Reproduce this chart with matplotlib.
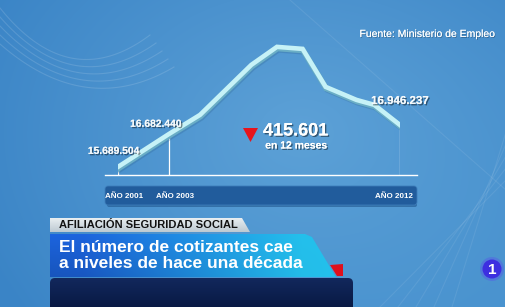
import numpy as np
import matplotlib
matplotlib.use("Agg")
import matplotlib.pyplot as plt
import matplotlib.transforms as mtransforms
from matplotlib.patches import Polygon, FancyBboxPatch, Circle
import matplotlib.patheffects as pe

# ---- data ----
years = [2001, 2003, 2004.2, 2006.2, 2007.2, 2008.2, 2009.1, 2010.3, 2011.0, 2012]
afiliados = [15.689504, 16.682440, 17.25, 18.75, 19.29, 19.23, 18.09, 17.70, 17.55, 16.946237]
label_years = [2001, 2003, 2012]
label_values = ["15.689.504", "16.682.440", "16.946.237"]
tick_years = [2001, 2003, 2012]
tick_labels = ["AÑO 2001", "AÑO 2003", "AÑO 2012"]
caida = "415.601"
caida_sub = "en 12 meses"
fuente = "Fuente: Ministerio de Empleo"
antetitulo = "AFILIACIÓN SEGURIDAD SOCIAL"
titulo = ["El número de cotizantes cae", "a niveles de hace una década"]

plt.rcParams['font.family'] = ['Liberation Sans', 'DejaVu Sans']

W, H = 506, 307
fig = plt.figure(figsize=(W / 100, H / 100), dpi=100)

# ---- background ----
bg = fig.add_axes([0, 0, 1, 1])
bg.set_xlim(0, W)
bg.set_ylim(H, 0)
bg.axis('off')
yy, xx = np.mgrid[0:H, 0:W]
d = np.sqrt(((xx - 300) / 360.0) ** 2 + ((yy - 130) / 280.0) ** 2)
d = np.clip(d, 0, 1)
c_in = np.array([92, 160, 214]) / 255
c_out = np.array([58, 132, 198]) / 255
img = c_in[None, None, :] * (1 - d[..., None]) + c_out[None, None, :] * d[..., None]
lr = np.clip((xx / W) * (yy / H), 0, 1)[..., None]
img = img * (1 - 0.25 * lr) + np.array([105, 180, 228]) / 255 * 0.25 * lr
bg.imshow(img, extent=(0, W, H, 0), aspect='auto', zorder=0)

# faint decorative swooshes (top-left)
for k in range(5):
    p0 = np.array([0, 8 + k * 9])
    p1 = np.array([70 + k * 4, 95 + k * 6])
    p2 = np.array([150 + k * 6, 35 + k * 8])
    tt = np.linspace(0, 1, 80)[:, None]
    pts = (1 - tt) ** 2 * p0 + 2 * (1 - tt) * tt * p1 + tt ** 2 * p2
    bg.plot(pts[:, 0], pts[:, 1], color='white', alpha=0.13, lw=0.8, zorder=1)
for k in range(5):
    bg.plot([380 + k * 18, 506], [307, 180 - k * 12], color='white', alpha=0.08, lw=0.8, zorder=1)
bg.plot([290, 506], [0, 190], color='white', alpha=0.08, lw=0.8, zorder=1)

# ---- chart axes ----
x0, x1 = 118, 400
ytop, ybot = 40, 175
ax = fig.add_axes([x0 / W, 1 - ybot / H, (x1 - x0) / W, (ybot - ytop) / H])
ax.set_xlim(2001, 2012)
ax.set_ylim(15.446, 19.496)
ax.axis('off')
ax.patch.set_alpha(0)

# baseline
bg.plot([105, 417], [175, 175], color='white', lw=1.0, zorder=3)
# vertical guides
for yr in label_years:
    v = afiliados[years.index(yr)]
    ax.vlines(yr, 15.446, v, color='white', lw=0.9, zorder=2)

def shifted(dx, dy):
    return ax.transData + mtransforms.ScaledTranslation(dx / 100, dy / 100, fig.dpi_scale_trans)

ax.plot(years, afiliados, color='#2a5f8a', lw=4.0, alpha=0.25, solid_joinstyle='round', zorder=3,
        transform=shifted(1.5, -3.0))
ax.plot(years, afiliados, color='#6aaec6', lw=4.2, solid_joinstyle='miter', zorder=4,
        transform=shifted(0.5, -1.5))
ax.plot(years, afiliados, color='#c6f2f7', lw=3.3, solid_joinstyle='miter', zorder=5)

shadow = [pe.withSimplePatchShadow(offset=(1, -1), shadow_rgbFace='black', alpha=0.45), pe.Normal()]

# value labels
offsets = [(-4.5, 16), (-13.5, 10), (0, 24)]
sizes = [7.4, 7.4, 8.3]
for yr, lab, off, s in zip(label_years, label_values, offsets, sizes):
    v = afiliados[years.index(yr)]
    ax.annotate(lab, (yr, v), xytext=(off[0] * 0.72, off[1] * 0.72), textcoords='offset points',
                ha='center', va='center', color='#f4f8fa', fontsize=s, fontweight='bold',
                path_effects=shadow, zorder=6, annotation_clip=False)

# ---- year bar ----
bg.add_patch(FancyBboxPatch((107, 203), 310, 4, boxstyle='round,pad=0,rounding_size=2',
                            facecolor='#174a80', edgecolor='none', alpha=0.5, zorder=2))
bg.add_patch(FancyBboxPatch((105, 186), 312, 19, boxstyle='round,pad=0,rounding_size=3',
                            facecolor='#215c9c', edgecolor='#3d7dba', lw=0.6, zorder=3))
tick_off = [6, 6, -6]
for yr, lab, o in zip(tick_years, tick_labels, tick_off):
    ax.annotate(lab, (yr, 15.446), xytext=(o * 0.72, -21 * 0.72), textcoords='offset points',
                ha='center', va='center', color='white', fontsize=5.8, fontweight='bold',
                annotation_clip=False, zorder=6)

# ---- overlay axes ----
fg = fig.add_axes([0, 0, 1, 1])
fg.axis('off')
fg.patch.set_alpha(0)

fg.add_patch(Polygon([(243, 128), (258, 128), (250.5, 142)], closed=True, facecolor='#e8141c',
                     edgecolor='none', zorder=6))
fg.text(263, 131, caida, color='white', fontsize=13, fontweight='bold', ha='left', va='center',
        path_effects=shadow, zorder=6)
fg.text(296, 145.5, caida_sub, color='white', fontsize=7.5, fontweight='bold', ha='center', va='center',
        path_effects=shadow, zorder=6)

fg.text(495, 34, fuente, color='white', fontsize=7.5, ha='right', va='center', zorder=6,
        path_effects=[pe.withSimplePatchShadow(offset=(0.6, -0.6), shadow_rgbFace='black', alpha=0.3), pe.Normal()])

# ---- lower third ----
gy = np.linspace(0, 1, 20)[:, None]
grey = np.array([232, 238, 241]) / 255 * (1 - gy[..., None]) + np.array([190, 202, 210]) / 255 * gy[..., None]
grey = np.repeat(grey, 2, axis=1)
im = fg.imshow(grey, extent=(50, 250, 232, 218), aspect='auto', zorder=4)
im.set_clip_path(Polygon([(50, 218), (242, 218), (250, 232), (50, 232)], closed=True, transform=fg.transData))
fg.text(59, 225.5, antetitulo, color='#111111', fontsize=8, fontweight='bold', ha='left', va='center', zorder=6)

gx = np.linspace(0, 1, 200)[None, :]
gyy = np.linspace(0, 1, 40)[:, None]
cl = np.array([28, 100, 222]) / 255
cr = np.array([36, 192, 236]) / 255
t = np.clip(gx * 1.3 - 0.15 + 0 * gyy, 0, 1)
ban = cl * (1 - t[..., None]) + cr * t[..., None]
ban = ban * (1 - 0.15 * gyy[..., None] * (1 - gx[..., None]))
im2 = fg.imshow(ban, extent=(50, 336, 277, 234), aspect='auto', zorder=4)
slant = Polygon([(50, 234), (305, 234), (312, 237), (336, 277), (50, 277)], closed=True, transform=fg.transData)
im2.set_clip_path(slant)
fg.text(59, 247, titulo[0], color='white', fontsize=12.5, fontweight='bold', ha='left', va='center', zorder=6)
fg.text(59, 264, titulo[1], color='white', fontsize=12.5, fontweight='bold', ha='left', va='center', zorder=6)

fg.add_patch(Polygon([(330, 265), (343, 264), (343, 276), (337, 276)], closed=True,
                     facecolor='#e0101c', edgecolor='none', zorder=6))

ny = np.linspace(0, 1, 30)[:, None]
navy = np.array([18, 40, 92]) / 255 * (1 - ny[..., None]) + np.array([8, 24, 66]) / 255 * ny[..., None]
navy = np.repeat(navy, 2, axis=1)
im3 = fg.imshow(navy, extent=(50, 353, 310, 278), aspect='auto', zorder=4)
im3.set_clip_path(FancyBboxPatch((50, 278), 303, 40, boxstyle='round,pad=0,rounding_size=5', transform=fg.transData))

fg.add_patch(Circle((492, 269), 12, facecolor='#5a4af0', edgecolor='none', alpha=0.35, zorder=5))
fg.add_patch(Circle((492, 269), 9.5, facecolor='#3d2fe0', edgecolor='none', zorder=6))
fg.text(492.5, 269.5, "1", color='white', fontsize=11, fontweight='bold', ha='center', va='center', zorder=7)

fg.set_xlim(0, W)
fg.set_ylim(H, 0)

fig.savefig("out.png", dpi=100)
